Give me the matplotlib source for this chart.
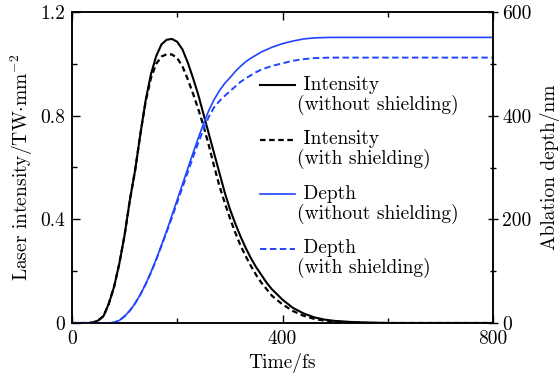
import numpy as np
import matplotlib
matplotlib.use("Agg")
import matplotlib.pyplot as plt
from matplotlib.ticker import MultipleLocator
from matplotlib.legend_handler import HandlerLine2D

plt.rcParams['font.family'] = ['cmr10', 'DejaVu Serif']
plt.rcParams['mathtext.fontset'] = 'cm'
plt.rcParams['axes.formatter.use_mathtext'] = True

# laser intensity (TW/mm^2) vs time (fs)
t_int = [0, 30, 40, 50, 60, 70, 80, 90, 100, 110, 120, 130, 140, 150, 160,
         170, 180, 190, 200, 210, 220, 230, 240, 250, 260, 270, 280, 290,
         300, 310, 320, 330, 340, 350, 360, 370, 380, 390, 400, 420, 440,
         460, 480, 500, 530, 560, 600, 800]
int_free = [0, 0, 0.002, 0.01, 0.027, 0.075, 0.14, 0.23, 0.34, 0.475, 0.59,
            0.73, 0.86, 0.96, 1.03, 1.075, 1.093, 1.096, 1.085, 1.055, 1.005,
            0.945, 0.88, 0.805, 0.73, 0.655, 0.58, 0.505, 0.44, 0.385, 0.335,
            0.29, 0.25, 0.215, 0.185, 0.155, 0.13, 0.11, 0.09, 0.058, 0.037,
            0.022, 0.013, 0.008, 0.004, 0.002, 0, 0]

t_int_s = [0, 30, 40, 50, 60, 70, 80, 90, 100, 110, 120, 130, 140, 150, 160,
           170, 180, 190, 200, 210, 220, 230, 240, 250, 260, 270, 280, 290,
           300, 310, 320, 330, 340, 350, 360, 370, 380, 390, 400, 420, 440,
           460, 480, 500, 530, 560, 800]
int_shield = [0, 0, 0.002, 0.01, 0.027, 0.075, 0.14, 0.23, 0.34, 0.475, 0.59,
              0.73, 0.855, 0.945, 1.0, 1.028, 1.037, 1.036, 1.022, 0.99, 0.94,
              0.885, 0.825, 0.76, 0.685, 0.605, 0.53, 0.465, 0.405, 0.35, 0.30,
              0.258, 0.22, 0.185, 0.155, 0.13, 0.105, 0.088, 0.072, 0.046,
              0.028, 0.016, 0.009, 0.005, 0.002, 0, 0]

# ablation depth (nm) vs time (fs)
t_dep = [0, 70, 80, 90, 100, 110, 120, 130, 140, 150, 160, 170, 180, 190,
         200, 210, 220, 230, 240, 250, 260, 270, 280, 290, 300, 310, 320, 330,
         340, 350, 360, 380, 400, 420, 440, 460, 490, 800]
dep_free = [0, 0, 1, 5, 13, 24, 38, 55, 75, 98, 123, 150, 178, 208, 238, 268,
            298, 328, 357, 385, 410, 431, 448, 462, 473, 485, 495, 504, 511,
            517, 523, 532, 539, 544, 548, 550, 551, 551]

t_dep_s = [0, 70, 80, 90, 100, 110, 120, 130, 140, 150, 160, 170, 180, 190,
           200, 210, 220, 230, 240, 250, 260, 270, 280, 290, 300, 310, 320,
           330, 340, 350, 360, 380, 400, 420, 440, 460, 490, 800]
dep_shield = [0, 0, 1, 5, 13, 24, 38, 55, 75, 97, 122, 149, 176, 204, 233,
              262, 291, 320, 348, 374, 398, 416, 428, 438, 447, 456, 465, 472,
              478, 484, 489, 496, 501, 506, 509, 511, 512, 512]

blue = '#1f45ff'


class FirstLineHandler(HandlerLine2D):
    """Legend line sitting level with the first line of a two-line label."""
    def create_artists(self, legend, orig_handle, xdescent, ydescent,
                       width, height, fontsize, trans):
        arts = super().create_artists(legend, orig_handle, xdescent, ydescent,
                                      width, height, fontsize, trans)
        for a in arts:
            a.set_ydata(np.asarray(a.get_ydata()) + 0.52 * fontsize)
        return arts


fig = plt.figure(figsize=(5.6, 3.78), dpi=100)
ax = fig.add_axes([72 / 560, 1 - 323 / 378, 421 / 560, 311 / 378])
ax2 = ax.twinx()

l1, = ax.plot(t_int, int_free, color='black', lw=1.5, label=' Intensity\n(without shielding)')
l2, = ax.plot(t_int_s, int_shield, color='black', lw=1.6, ls=(0, (2.5, 1.6)),
              label=' Intensity\n(with shielding)')
l3, = ax2.plot(t_dep, dep_free, color=blue, lw=1.2, label=' Depth\n(without shielding)')
l4, = ax2.plot(t_dep_s, dep_shield, color=blue, lw=1.4, ls=(0, (3.3, 1.8)),
               label=' Depth\n(with shielding)')

fs = 14
ax.set_xlim(0, 800)
ax.set_ylim(0, 1.2)
ax2.set_ylim(0, 600)
ax.set_xticks([0, 400, 800], ['0', '400', '800'], fontsize=fs)
ax.xaxis.set_minor_locator(MultipleLocator(200))
ax.set_yticks([0, 0.4, 0.8, 1.2], ['0', '0.4', '0.8', '1.2'], fontsize=fs)
ax.yaxis.set_minor_locator(MultipleLocator(0.2))
ax2.set_yticks([0, 200, 400, 600], ['0', '200', '400', '600'], fontsize=fs)
ax2.yaxis.set_minor_locator(MultipleLocator(100))

ax.tick_params(which='both', direction='in', top=True, right=False, width=1)
ax.tick_params(which='major', length=6, pad=5)
ax.tick_params(which='minor', length=3.5)
ax2.tick_params(which='both', direction='inout', width=1)
ax2.tick_params(which='major', length=7, pad=3)
ax2.tick_params(which='minor', length=5)
for sp in list(ax.spines.values()) + list(ax2.spines.values()):
    sp.set_linewidth(1.1)

ax.set_xlabel('Time/fs', fontsize=fs, labelpad=4)
ax.set_ylabel(r'Laser intensity/TW$\cdot$mm$^{-2}$', fontsize=fs, labelpad=4)
ax2.set_ylabel('Ablation depth/nm', fontsize=fs, labelpad=6)

ax2.legend(handles=[l1, l2, l3, l4], loc='upper left', bbox_to_anchor=(0.447, 0.795),
           frameon=False, fontsize=fs, handlelength=1.8, handletextpad=0.1,
           labelspacing=0.8, borderpad=0, borderaxespad=0,
           handler_map={l: FirstLineHandler() for l in (l1, l2, l3, l4)})
for txt in ax2.get_legend().get_texts():
    txt.set_linespacing(1.05)

fig.savefig('out.png', dpi=100)
